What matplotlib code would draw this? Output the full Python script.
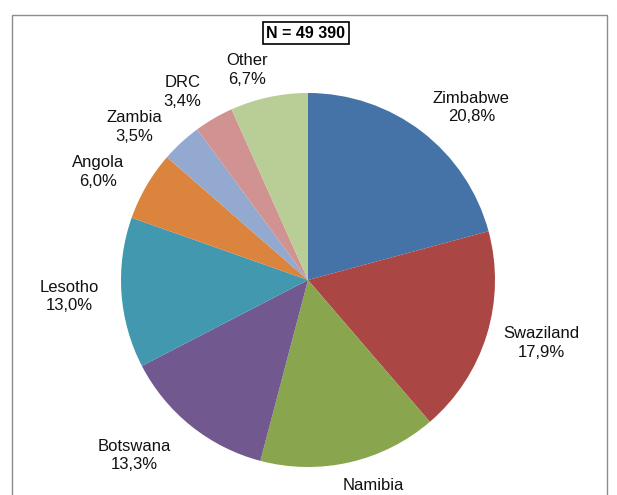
import numpy as np
import matplotlib.pyplot as plt
from matplotlib.patches import Rectangle

plt.rcParams['font.family'] = ['Liberation Sans', 'DejaVu Sans']

# data (Namibia label is cut off; remainder to 100 %)
countries = ['Zimbabwe', 'Swaziland', 'Namibia', 'Botswana', 'Lesotho',
             'Angola', 'Zambia', 'DRC', 'Other']
shares = [20.8, 17.9, 15.4, 13.3, 13.0, 6.0, 3.5, 3.4, 6.7]
total_n = '49 390'

# styling
colors = ['#4572A7', '#AA4643', '#89A54E', '#71588F', '#4198AF',
          '#DB843D', '#93A9CF', '#D19392', '#B9CD96']
# label distance (in radii) and angular nudge (deg) per slice, Excel-like placement
label_dist = [1.27, 1.29, 1.20, 1.32, 1.28, 1.26, 1.24, 1.21, 1.17]
label_nudge = [-6, 2, 4, -6, 0, 3, 6, 3.5, 4]

W, H = 617, 495
fig = plt.figure(figsize=(W / 100, H / 100), dpi=100)
ax = fig.add_axes([0, 0, 1, 1])

cx, cy, R = 308, 280, 187

# pie drawn in y-down pixel coords, so counterclock=True runs clockwise on screen
wedges, _ = ax.pie(shares, colors=colors, startangle=-90, counterclock=True,
                   center=(cx, cy), radius=R, frame=True,
                   wedgeprops=dict(linewidth=0))
ax.set_xlim(0, W)
ax.set_ylim(H, 0)
ax.set_aspect('equal')
ax.axis('off')

# labels outside each slice
for w, name, s, d, nd in zip(wedges, countries, shares, label_dist, label_nudge):
    mid = np.deg2rad((w.theta1 + w.theta2) / 2 - nd)
    lx = cx + d * R * np.cos(mid)
    ly = cy + d * R * np.sin(mid)
    ax.text(lx, ly, '%s\n%s%%' % (name, ('%.1f' % s).replace('.', ',')),
            ha='center', va='center', fontsize=12, linespacing=1.3,
            color='#111111', clip_on=False)

# N box
ax.text(cx - 2, 33, 'N = ' + total_n, ha='center', va='center',
        fontsize=11.5, fontweight='bold',
        bbox=dict(boxstyle='square,pad=0.25', fc='white', ec='black', lw=1.2))

# chart area frame
ax.add_patch(Rectangle((12, 15), 595, 520, fill=False, ec='#8c8c8c', lw=1,
                       clip_on=False))

fig.savefig('out.png', dpi=100)
